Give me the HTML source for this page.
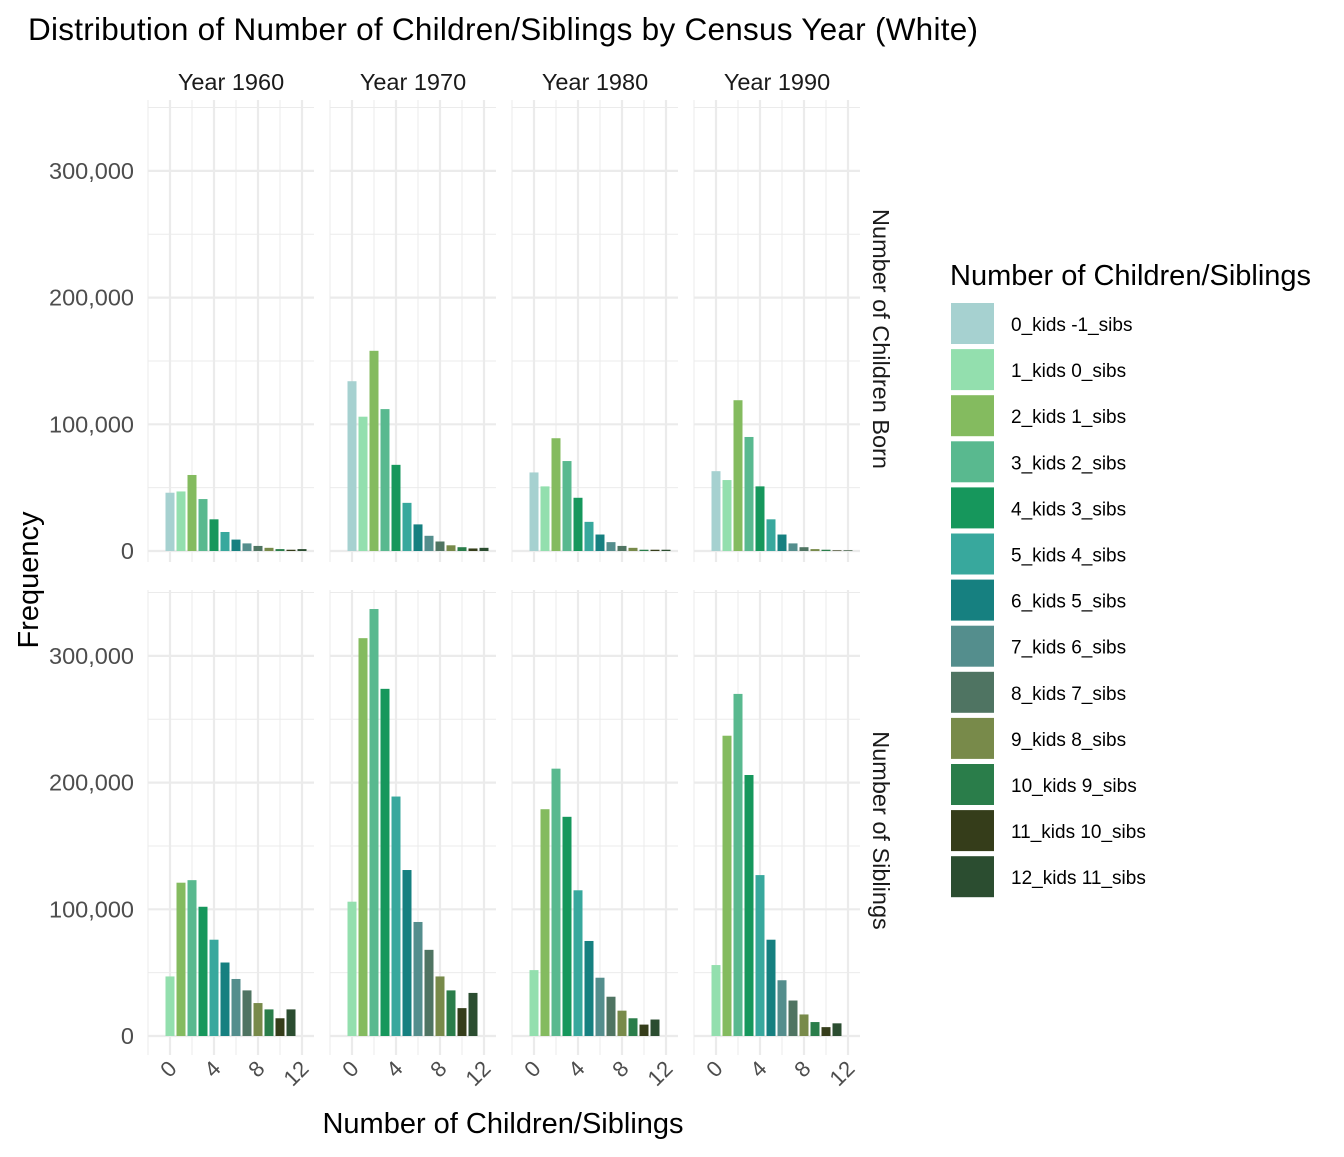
<!DOCTYPE html>
<html><head><meta charset="utf-8"><style>
body{margin:0;background:#fff;}
svg text{font-family:"Liberation Sans",Arial,sans-serif;}
</style></head><body>
<svg id="chart" width="1344" height="1152" xmlns="http://www.w3.org/2000/svg">
<text x="28" y="40" font-size="31.5" fill="#000" textLength="950">Distribution of Number of Children/Siblings by Census Year (White)</text>
<text transform="translate(38,580) rotate(-90)" text-anchor="middle" font-size="29" fill="#000">Frequency</text>
<text x="503" y="1133" text-anchor="middle" font-size="29" fill="#000">Number of Children/Siblings</text>
<g id="panels"></g>
<g id="legend"></g>
</svg>
<script>
const years = ["Year 1960","Year 1970","Year 1980","Year 1990"];
const rowLabels = ["Number of Children Born","Number of Siblings"];
const categories = ["0_kids -1_sibs","1_kids 0_sibs","2_kids 1_sibs","3_kids 2_sibs","4_kids 3_sibs","5_kids 4_sibs","6_kids 5_sibs","7_kids 6_sibs","8_kids 7_sibs","9_kids 8_sibs","10_kids 9_sibs","11_kids 10_sibs","12_kids 11_sibs"];
const colors = ["#a6d1d0","#93dfae","#84bb5f","#59b98f","#16975c","#38a89d","#168080","#548e8d","#4f7462","#788a4a","#2a7d4a","#353d1a","#2b4d30"];
const kids1960 = [46000,47000,60000,41000,25000,15000,9000,6000,4000,2500,1500,1000,1500];
const kids1970 = [134000,106000,158000,112000,68000,38000,21000,12000,7500,4500,3000,2000,2500];
const kids1980 = [62000,51000,89000,71000,42000,23000,13000,7000,4000,2500,1000,1000,1000];
const kids1990 = [63000,56000,119000,90000,51000,25000,13000,6000,3000,1500,1000,500,500];
const sibs1960 = [47000,121000,123000,102000,76000,58000,45000,36000,26000,21000,14000,21000];
const sibs1970 = [106000,314000,337000,274000,189000,131000,90000,68000,47000,36000,22000,34000];
const sibs1980 = [52000,179000,211000,173000,115000,75000,46000,31000,20000,14000,9000,13000];
const sibs1990 = [56000,237000,270000,206000,127000,76000,44000,28000,17000,11000,7000,10000];
const yTicks = [0,100000,200000,300000];
const yTickLabels = ["0","100,000","200,000","300,000"];
const xTicks = [0,4,8,12];

const kidsData=[kids1960,kids1970,kids1980,kids1990];
const sibsData=[sibs1960,sibs1970,sibs1980,sibs1990];
const NS="http://www.w3.org/2000/svg";
const pg=document.getElementById('panels');
function mk(tag,attrs,parent){const e=document.createElementNS(NS,tag);for(const k in attrs)e.setAttribute(k,attrs[k]);parent.appendChild(e);return e;}
const panelW=166, colX0=148, colStep=182;
const rows=[{top:100,bottom:562,zero:551},{top:590,bottom:1055,zero:1036}];
const pxPerUnit=126.7/100000;
function xs(c,v){return colX0+c*colStep+(v+2)*11;}
function ys(r,v){return rows[r].zero-v*pxPerUnit;}
for(let r=0;r<2;r++){
  for(let c=0;c<4;c++){
    const g=mk('g',{},pg);
    
    
    const L=colX0+c*colStep, R=L+panelW, T=rows[r].top, B=rows[r].bottom;
    for(const v of [50000,150000,250000,350000]){const y=ys(r,v);if(y>=T-1)mk('line',{x1:L,x2:R,y1:y,y2:y,stroke:'#ebebeb','stroke-width':1},g);}
    for(const v of [-2,2,6,10]){const x=xs(c,v);mk('line',{x1:x,x2:x,y1:T,y2:B,stroke:'#ebebeb','stroke-width':1},g);}
    for(const v of yTicks){const y=ys(r,v);mk('line',{x1:L,x2:R,y1:y,y2:y,stroke:'#ebebeb','stroke-width':2.2},g);}
    for(const v of xTicks){const x=xs(c,v);mk('line',{x1:x,x2:x,y1:T,y2:B,stroke:'#ebebeb','stroke-width':2.2},g);}
    const data=r==0?kidsData[c]:sibsData[c];
    data.forEach((v,i)=>{
      const ci=r==0?i:i+1;
      const y=ys(r,v);
      const b=mk('rect',{x:xs(c,i)-4.5,y:y,width:9,height:rows[r].zero-y,fill:colors[ci]},g);
      
      
    });
    if(r==0){const t=mk('text',{x:L+panelW/2,y:90,'text-anchor':'middle','font-size':23.5,fill:'#1a1a1a'},g);t.textContent=years[c];
      }
    if(r==1){for(const v of xTicks){const x=xs(c,v);const t=mk('text',{transform:`translate(${x+8},${1070}) rotate(-45)`,'text-anchor':'end','font-size':22,fill:'#4d4d4d'},g);t.textContent=v;
      }}
    if(c==0){yTicks.forEach((v,i)=>{const t=mk('text',{x:134,y:ys(r,v)+8,'text-anchor':'end','font-size':23.5,fill:'#4d4d4d'},g);t.textContent=yTickLabels[i];
      });}
  }
  const cy=(rows[r].top+rows[r].bottom)/2+8;
  const t=mk('text',{transform:`translate(873,${cy}) rotate(90)`,'text-anchor':'middle','font-size':23.5,fill:'#1a1a1a'},pg);
  t.textContent=rowLabels[r];
  
  
}
const lg=document.getElementById('legend');
const lt=mk('text',{x:950,y:285,'font-size':29,fill:'#000'},lg);lt.textContent='Number of Children/Siblings';

categories.forEach((c,i)=>{
  const y=303+i*46.1;
  const k=mk('rect',{x:951,y:y,width:43,height:41,fill:colors[i]},lg);
  
  
  const t=mk('text',{x:1011,y:y+28,'font-size':19,fill:'#000'},lg);t.textContent=c;
  
  
});
</script>
</body></html>
